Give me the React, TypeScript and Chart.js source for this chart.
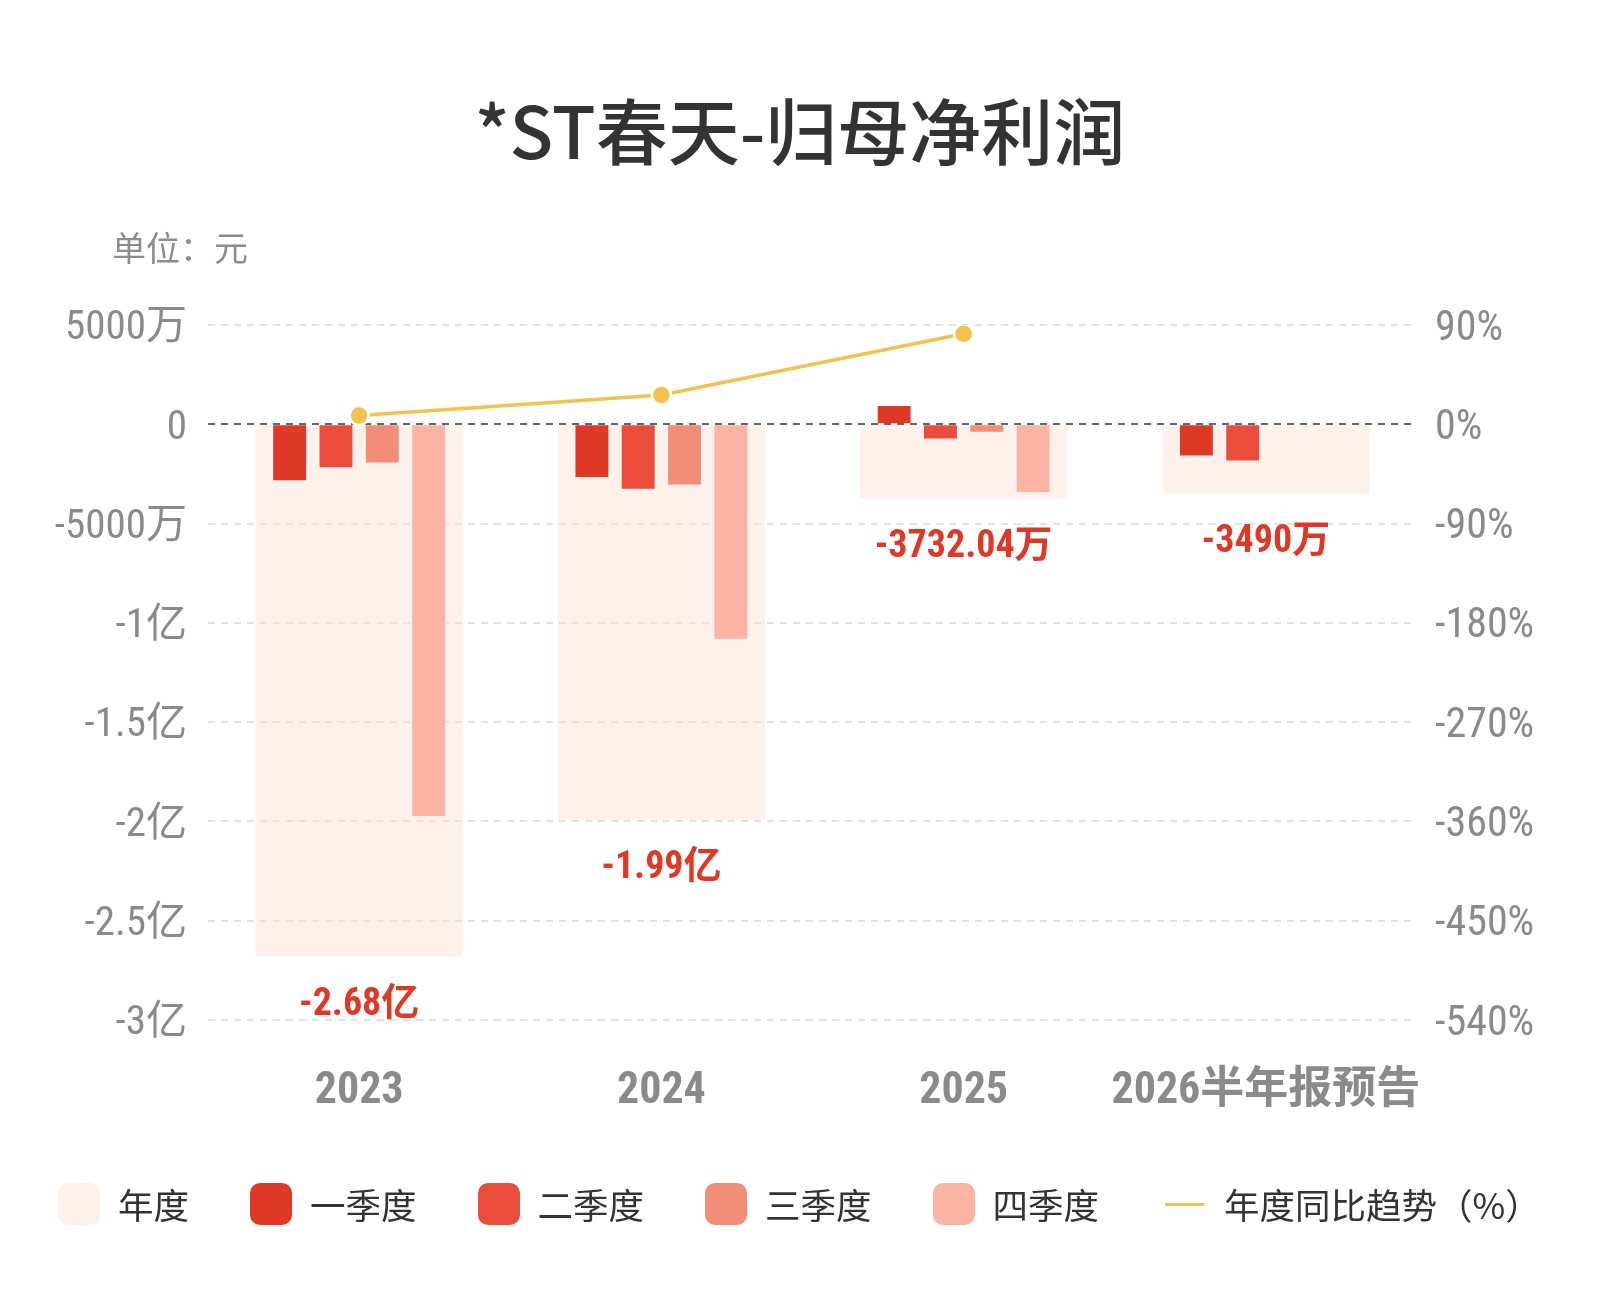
import React, { useEffect, useRef } from "react";
import { Chart, registerables } from "chart.js";

Chart.register(...registerables);

const categories = ["2023", "2024", "2025", "2026半年报预告"];
const annualValues = [-268000000, -199000000, -37320400, -34900000];
const q1Values = [-28200000, -26600000, 9200000, -15700000];
const q2Values = [-21600000, -32500000, -7100000, -18200000];
const q3Values: (number | null)[] = [-19300000, -30300000, -3700000, null];
const q4Values: (number | null)[] = [-197300000, -108000000, -34100000, null];
const yoyValues: (number | null)[] = [7.9, 26.6, 82, null];

const seriesNames = ["年度", "一季度", "二季度", "三季度", "四季度", "年度同比趋势（%）"];
const colAnnual = "rgba(252, 222, 210, 0.45)";
const colAnnualLegend = "#FEF0EB";
const colQ = ["#E03826", "#EB4D3D", "#F28E78", "#FBB3A3"];
const colLine = "#F2C14E";

const FONT = "'Liberation Sans Narrow', 'Roboto Condensed', 'DejaVu Sans Condensed', 'Noto Sans CJK SC', sans-serif";
const CJK = "'Noto Sans CJK SC', sans-serif";

function fmtMoney(v: number): string {
  const a = Math.abs(v);
  if (a === 0) return "0";
  if (a >= 1e8) {
    return parseFloat((v / 1e8).toFixed(2)).toString() + "亿";
  }
  return parseFloat((v / 1e4).toFixed(2)).toString() + "万";
}

const labelPlugin = {
  id: "annualLabels",
  afterDatasetsDraw(chart: any) {
    const ctx = chart.ctx;
    const xs = chart.scales.x;
    const ys = chart.scales.y;
    ctx.save();
    ctx.font = `bold 38px ${FONT}`;
    ctx.fillStyle = "#E03826";
    ctx.textAlign = "center";
    ctx.textBaseline = "middle";
    annualValues.forEach((v, i) => {
      const x = xs.getPixelForValue(i);
      const y = ys.getPixelForValue(v) + 49;
      ctx.fillText(fmtMoney(v), x, y);
    });
    ctx.restore();
  },
};

export default function App() {
  const ref = useRef<HTMLCanvasElement | null>(null);

  useEffect(() => {
    if (!ref.current) return;
    const qSets = [q1Values, q2Values, q3Values, q4Values].map((d, i) => ({
      type: "bar" as const,
      label: seriesNames[i + 1],
      data: d,
      backgroundColor: colQ[i],
      xAxisID: "x",
      yAxisID: "y",
      categoryPercentage: 0.613,
      barPercentage: 0.71,
      order: 1,
    }));
    const chart = new Chart(ref.current, {
      type: "bar",
      data: {
        labels: categories,
        datasets: [
          {
            type: "bar",
            label: seriesNames[0],
            data: annualValues,
            backgroundColor: colAnnual,
            xAxisID: "x",
            yAxisID: "y",
            grouped: false,
            categoryPercentage: 1,
            barPercentage: 0.685,
            order: 2,
          },
          ...qSets,
          {
            type: "line",
            label: seriesNames[5],
            data: yoyValues,
            borderColor: colLine,
            backgroundColor: colLine,
            borderWidth: 3.5,
            pointRadius: 9.5,
            pointBackgroundColor: colLine,
            pointBorderColor: "#ffffff",
            pointBorderWidth: 2.5,
            xAxisID: "x",
            yAxisID: "y1",
            order: 0,
          },
        ] as any,
      },
      options: {
        animation: false,
        responsive: false,
        devicePixelRatio: 1,
        layout: { padding: { top: 325, bottom: 0, left: 0, right: 0 } },
        plugins: {
          legend: { display: false },
          title: { display: false },
          tooltip: { enabled: false },
        },
        scales: {
          x: {
            type: "category",
            offset: true,
            grid: { display: false, drawTicks: false },
            border: { display: false },
            ticks: {
              color: "#8a8a8a",
              font: { family: FONT, size: 44, weight: "bold" },
              padding: 46,
              maxRotation: 0,
              autoSkip: false,
            },
            afterFit: (s: any) => {
              s.height = 280;
            },
          },
          y: {
            position: "left",
            min: -300000000,
            max: 50000000,
            grid: {
              color: (c: any) => (c.tick && c.tick.value === 0 ? "#666666" : "#e2e2e2"),
              lineWidth: 2,
              drawTicks: false,
            },
            border: { display: false, dash: [7, 6] },
            ticks: {
              stepSize: 50000000,
              color: "#8a8a8a",
              font: { family: FONT, size: 41 },
              padding: 21,
              labelOffset: 4,
              callback: (v: any) => fmtMoney(Number(v)),
            },
            afterFit: (s: any) => {
              s.width = 208;
            },
          },
          y1: {
            position: "right",
            min: -540,
            max: 90,
            grid: { display: false, drawTicks: false },
            border: { display: false },
            ticks: {
              stepSize: 90,
              color: "#8a8a8a",
              font: { family: FONT, size: 42 },
              padding: 18,
              labelOffset: 4,
              callback: (v: any) => `${v}%`,
            },
            afterFit: (s: any) => {
              s.width = 183;
            },
          },
        },
      } as any,
      plugins: [labelPlugin],
    });
    return () => chart.destroy();
  }, []);

  const legendItems = seriesNames.map((name, i) => {
    const isLine = i === 5;
    const color = i === 0 ? colAnnualLegend : isLine ? colLine : colQ[i - 1];
    return (
      <div key={name} style={{ display: "flex", alignItems: "center", marginRight: i < 4 ? 61 : i === 4 ? 66 : 0 }}>
        {isLine ? (
          <div style={{ width: 39, height: 3, background: color, marginRight: 20 }} />
        ) : (
          <div style={{ width: 42, height: 42, borderRadius: 10, background: color, marginRight: 18 }} />
        )}
        <span style={{ fontFamily: CJK, fontSize: 35.5, color: "#333", lineHeight: "42px", whiteSpace: "nowrap" }}>{name}</span>
      </div>
    );
  });

  return (
    <div style={{ position: "absolute", left: 0, top: 0, width: 1600, height: 1300, background: "#fff", overflow: "hidden" }}>
      <canvas ref={ref} width={1600} height={1300} style={{ position: "absolute", left: 0, top: 0, width: 1600, height: 1300 }} />
      <div
        style={{
          position: "absolute",
          left: 0,
          top: 92,
          width: 1600,
          textAlign: "center",
          fontFamily: CJK,
          fontSize: 72,
          fontWeight: 500,
          color: "#333",
          lineHeight: "72px",
        }}
      >
        *ST春天-归母净利润
      </div>
      <div
        style={{
          position: "absolute",
          left: 112,
          top: 230,
          fontFamily: CJK,
          fontSize: 34,
          color: "#8c8c8c",
          lineHeight: "34px",
        }}
      >
        单位：元
      </div>
      <div
        style={{
          position: "absolute",
          left: 58,
          top: 1183,
          display: "flex",
          alignItems: "center",
        }}
      >
        {legendItems}
      </div>
    </div>
  );
}
